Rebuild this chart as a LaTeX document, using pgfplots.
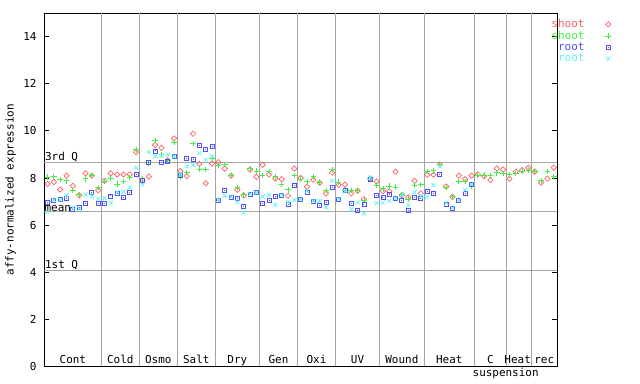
\documentclass[border=0pt]{standalone}
\usepackage{fontspec}
\setmainfont{DejaVu Sans Mono}
\usepackage{pgfplots}
\pgfplotsset{compat=1.18}
\usepackage{pgfplotstable}
\definecolor{cred}{RGB}{255,96,96}
\definecolor{cgreen}{RGB}{64,240,64}
\definecolor{cblue}{RGB}{80,80,255}
\definecolor{ccyan}{RGB}{96,245,245}
\definecolor{gridgray}{RGB}{165,165,165}

\pgfplotstableread{
k r g b c
0 7.75 8.04 6.97 6.57
1 7.83 8.07 7.05 7.07
2 7.51 7.93 7.10 7.07
3 8.10 7.88 7.12 7.27
4 7.66 7.47 6.65 6.75
5 7.27 7.30 6.75 6.70
6 8.20 7.97 6.92 7.30
7 8.10 8.10 7.38 7.23
8 7.48 7.60 6.92 7.12
9 7.88 7.87 6.92 7.14
10 8.20 7.98 7.24 6.95
11 8.15 7.75 7.33 7.40
12 8.15 7.85 7.17 7.42
13 8.15 8.03 7.38 7.60
14 9.10 9.20 8.17 8.44
15 7.90 7.97 7.90 7.72
16 8.06 8.65 8.65 9.10
17 9.40 9.60 9.15 8.92
18 9.28 9.00 8.65 8.95
19 8.75 8.75 8.72 8.98
20 9.68 9.50 8.90 8.92
21 8.30 8.05 8.10 8.15
22 8.08 8.24 8.85 8.50
23 9.88 9.47 8.77 8.55
24 8.60 8.38 9.40 9.05
25 7.78 8.36 9.20 8.77
26 8.62 8.83 9.33 8.93
27 8.67 8.53 7.06 7.08
28 8.40 8.57 7.47 7.25
29 8.10 8.10 7.18 7.20
30 7.50 7.60 7.13 6.98
31 7.26 7.29 6.80 6.53
32 8.36 8.40 7.30 7.32
33 8.05 8.30 7.38 7.38
34 8.56 8.10 6.92 7.20
35 8.15 8.27 7.04 7.28
36 7.98 8.05 7.20 6.86
37 7.95 7.72 7.27 7.27
38 7.25 7.50 6.88 6.98
39 8.40 8.10 7.68 7.07
40 8.00 7.96 7.10 7.10
41 7.63 7.85 7.41 7.46
42 7.93 8.05 7.00 7.03
43 7.80 7.80 6.84 7.03
44 7.35 7.47 6.96 6.76
45 8.23 8.35 7.59 7.88
46 7.71 7.83 7.10 7.10
47 7.72 7.49 7.49 7.43
48 7.35 7.47 6.93 6.67
49 7.46 7.46 6.62 6.95
50 7.10 7.05 6.87 6.50
51 7.97 7.97 7.94 8.02
52 7.85 7.70 7.25 6.93
53 7.44 7.54 7.16 6.95
54 7.44 7.66 7.30 7.02
55 8.27 7.62 7.12 7.14
56 7.27 7.30 7.04 7.29
57 7.18 7.10 6.64 6.84
58 7.88 7.68 7.17 7.40
59 7.35 7.72 7.15 7.22
60 8.14 8.27 7.43 7.20
61 8.14 8.31 7.35 7.70
62 8.58 8.57 8.14 8.50
63 7.64 7.60 6.90 6.95
64 7.20 7.20 6.70 6.72
65 8.10 7.85 7.06 7.06
66 7.95 7.86 7.35 7.50
67 8.10 7.67 7.74 7.74
68 8.16 8.13 nan nan
69 8.07 8.12 nan nan
70 7.92 8.09 nan nan
71 8.40 8.22 nan nan
72 8.36 8.20 nan nan
73 7.97 8.14 nan nan
74 8.27 8.20 nan nan
75 8.33 8.30 nan nan
76 8.44 8.33 nan nan
77 8.27 8.28 nan nan
78 7.80 7.88 nan nan
79 7.97 8.27 nan nan
80 8.44 8.06 nan nan
}\data

\pgfdeclareplotmark{sqdot}{%
  \pgfpathrectangle{\pgfqpoint{-\pgfplotmarksize}{-\pgfplotmarksize}}{\pgfqpoint{2\pgfplotmarksize}{2\pgfplotmarksize}}%
  \pgfusepathqstroke
  \pgfpathrectangle{\pgfqpoint{-0.45pt}{-0.45pt}}{\pgfqpoint{0.9pt}{0.9pt}}%
  \pgfusepathqfill}

\begin{document}
\fontsize{11}{13}\selectfont
\begin{tikzpicture}
\useasboundingbox (0,0) rectangle (640bp,384bp);
\begin{axis}[
  at={(44.4bp,17.5bp)}, anchor=south west,
  scale only axis, width=512.5bp, height=353.4bp,
  xmin=-0.5, xmax=80.5, ymin=0, ymax=15,
  xtick=\empty,
  ytick={0,2,...,14},
  ytick pos=both, yticklabel pos=left,
  tick align=inside, major tick length=5bp,
  tick style={black, line width=0.8bp},
  axis line style={black, line width=0.8bp},
  /pgf/number format/assume math mode=true,
  ticklabel style={font=\fontsize{11}{13}\selectfont},
  yticklabel style={xshift=-4bp},
  ylabel={affy-normalized expression},
  every axis y label/.style={at={(axis description cs:-0.066,0.5)}, rotate=90, anchor=center, font=\fontsize{11}{13}\selectfont},
  extra x ticks={8.5,14.5,20.5,26.5,33.5,39.5,45.5,52.5,59.5,67.5,72.5,76.5},
  extra x tick labels={},
  extra x tick style={grid=major, major tick length=0pt, major grid style={gridgray, line width=0.8bp}},
  clip=false,
  legend style={draw=none, fill=none, inner sep=0pt, at={(0.989,0.983)}, anchor=north west,
    font=\fontsize{11}{11}\selectfont, row sep=1.8bp, column sep=21bp,
    nodes={inner sep=0pt}},
  legend plot pos=right,
  legend cell align=right,
]
\draw[gridgray, line width=0.8bp] (axis cs:-0.5,8.65) -- (axis cs:80.5,8.65);
\draw[gridgray, line width=0.8bp] (axis cs:-0.5,6.58) -- (axis cs:80.5,6.58);
\draw[gridgray, line width=0.8bp] (axis cs:-0.5,4.08) -- (axis cs:80.5,4.08);
\addplot[only marks, mark=square, mark size=1.9bp, mark options={rotate=45, cred, line width=0.7bp}] table[x=k,y=r]{\data};
\addlegendentry{\textcolor{cred}{shoot}}
\addplot[only marks, mark=+, mark size=2.8bp, mark options={cgreen, line width=0.8bp}] table[x=k,y=g]{\data};
\addlegendentry{\textcolor{cgreen}{shoot}}
\addplot[only marks, mark=sqdot, mark size=2.0bp, mark options={cblue, line width=0.8bp}] table[x=k,y=b]{\data};
\addlegendentry{\textcolor{cblue}{root}}
\addplot[only marks, mark=x, mark size=2.8bp, mark options={ccyan, line width=0.8bp}] table[x=k,y=c]{\data};
\addlegendentry{\textcolor{ccyan}{root}}
\node[anchor=south west, inner sep=0.5bp] at (axis cs:-0.5,8.65) {3rd Q};
\node[anchor=base west, inner sep=0bp] at (axis cs:-0.5,6.58) {mean};
\node[anchor=south west, inner sep=0.5bp] at (axis cs:-0.5,4.08) {1st Q};
\node[anchor=base, inner sep=0bp, yshift=2.8bp] at (axis cs:4,0) {Cont};
\node[anchor=base, inner sep=0bp, yshift=2.8bp] at (axis cs:11.5,0) {Cold};
\node[anchor=base, inner sep=0bp, yshift=2.8bp] at (axis cs:17.5,0) {Osmo};
\node[anchor=base, inner sep=0bp, yshift=2.8bp] at (axis cs:23.5,0) {Salt};
\node[anchor=base, inner sep=0bp, yshift=2.8bp] at (axis cs:30,0) {Dry};
\node[anchor=base, inner sep=0bp, yshift=2.8bp] at (axis cs:36.5,0) {Gen};
\node[anchor=base, inner sep=0bp, yshift=2.8bp] at (axis cs:42.5,0) {Oxi};
\node[anchor=base, inner sep=0bp, yshift=2.8bp] at (axis cs:49,0) {UV};
\node[anchor=base, inner sep=0bp, yshift=2.8bp] at (axis cs:56,0) {Wound};
\node[anchor=base, inner sep=0bp, yshift=2.8bp] at (axis cs:63.5,0) {Heat};
\node[anchor=base, inner sep=0bp, yshift=2.8bp] at (axis cs:70,0) {C};
\node[anchor=base, inner sep=0bp, yshift=2.8bp] at (axis cs:74.3,0) {Heat};
\node[anchor=base, inner sep=0bp, yshift=2.8bp] at (axis cs:78.5,0) {rec};
\node[anchor=base, inner sep=0bp, yshift=-10.5bp] at (axis cs:72.4,0) {suspension};
\end{axis}
\end{tikzpicture}
\end{document}
